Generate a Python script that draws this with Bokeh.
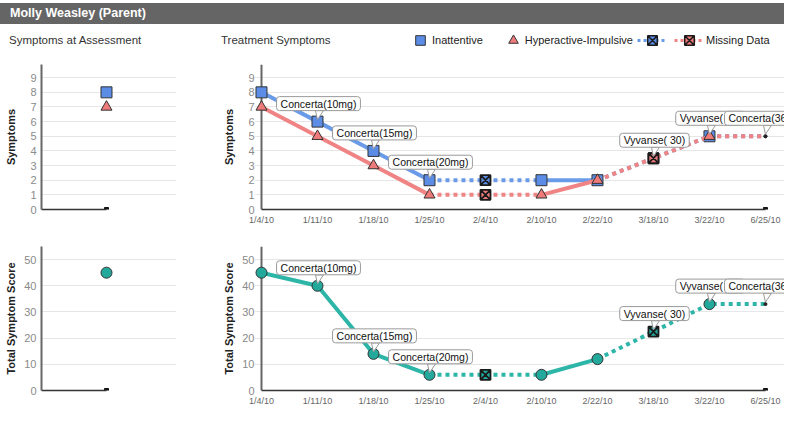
from bokeh.plotting import figure
from bokeh.models import (Range1d, FixedTicker, Span, Label, Legend, LegendItem, Div)
from bokeh.layouts import column, row
from bokeh.embed import file_html
from bokeh.resources import INLINE

# ---------------- data ----------------
respondent = "Molly Weasley (Parent)"
visit_dates = ["1/4/10", "1/11/10", "1/18/10", "1/25/10", "2/4/10",
               "2/10/10", "2/22/10", "3/18/10", "3/22/10", "6/25/10"]
visit_status = ["obs", "obs", "obs", "obs", "missing",
                "obs", "obs", "missing", "obs", "pending"]
inattentive = [8, 6, 4, 2, 2, 2, 2, 3.5, 5, 5]
hyperactive = [7, 5, 3, 1, 1, 1, 2, 3.5, 5, 5]
total_score = [45, 40, 14, 6, 6, 6, 12, 22.5, 33, 33]
medications = ["", "Concerta(10mg)", "Concerta(15mg)", "Concerta(20mg)", "",
               "", "", "Vyvanse( 30)", "Vyvanse( 50)", "Concerta(36mg)"]
assessment_category = ["Assessment"]
assessment_inattentive = [8]
assessment_hyperactive = [7]
assessment_total = [45]
symptom_ticks = [0, 1, 2, 3, 4, 5, 6, 7, 8, 9]
score_ticks = [0, 10, 20, 30, 40, 50]

# ---------------- style ----------------
FONT = "Liberation Sans"
BLUE_LINE, BLUE_FILL = "#6a9be9", "#5b8de6"
PINK_LINE, PINK_FILL = "#f08484", "#ee7a7a"
TEAL_LINE, TEAL_FILL = "#2db5a8", "#22a99b"
MK_LINE = "#333333"

LEFT_W, RIGHT_W = 220, 564
HEADER_H, HEADER_TOP, SUB_H = 21, 3, 32
SUB2_W = 185
XL = (-1, 1.077)
XR = (-0.125, 9.340)      # view extends to the canvas edge (labels cut there)
GRID_END = 9.036          # gridlines stop a little after the last visit
TOP_Y = (0, 9.9)
BOT_Y = (0, 55)
TOP_CFG = dict(height=171, min_border_top=8, min_border_bottom=18)
BOT_CFG = dict(height=181, min_border_top=19, min_border_bottom=16)
TOP_FH, BOT_FH = 145, 146
RIGHT_FW = 530


def base_fig(width, xr, yr, cfg, left, right):
    p = figure(width=width, x_range=Range1d(*xr), y_range=Range1d(*yr),
               output_backend="svg", toolbar_location=None,
               min_border_left=left, min_border_right=right, **cfg)
    p.outline_line_color = None
    p.xgrid.visible = False
    p.ygrid.grid_line_color = "#e6e6e6"
    for ax in (p.xaxis, p.yaxis):
        ax.major_tick_out = 0
        ax.major_tick_in = 0
        ax.minor_tick_out = 0
        ax.minor_tick_in = 0
        ax.major_tick_line_color = None
        ax.minor_tick_line_color = None
    p.yaxis.axis_line_color = "#666666"
    p.yaxis.axis_line_width = 2
    p.yaxis.major_label_text_font = FONT
    p.yaxis.major_label_text_font_size = "11px"
    p.yaxis.major_label_text_color = "#8a8a8a"
    p.yaxis.axis_label_text_font = FONT
    p.yaxis.axis_label_text_font_size = "11px"
    p.yaxis.axis_label_text_font_style = "bold"
    p.yaxis.axis_label_text_color = "#222222"
    p.xaxis.axis_line_color = "#333333"
    p.xaxis.axis_line_width = 1.5
    return p


def left_fig(cfg, yr, ticks, label, label_standoff):
    p = base_fig(LEFT_W, XL, yr, cfg, 41, 44)
    p.yaxis.ticker = FixedTicker(ticks=ticks)
    p.yaxis.axis_label = label
    p.yaxis.major_label_standoff = 5
    p.yaxis.axis_label_standoff = label_standoff
    p.xaxis.ticker = FixedTicker(ticks=[])
    p.xaxis.major_label_text_font_size = "0px"
    p.xaxis.bounds = (XL[0], 0)
    p.scatter(x=[0], y=[0], marker="square", size=4, fill_color="#111", line_color="#111")
    return p


def right_fig(cfg, yr, ticks, label, label_standoff):
    p = base_fig(RIGHT_W, XR, yr, cfg, 34, 0)
    idx = list(range(len(visit_dates)))
    p.ygrid.bounds = (XR[0], GRID_END)
    p.yaxis.ticker = FixedTicker(ticks=ticks)
    p.yaxis.axis_label = label
    p.yaxis.major_label_standoff = 0
    p.yaxis.axis_label_standoff = label_standoff
    p.yaxis.axis_line_color = None
    sp = Span(location=idx[0], dimension="height", line_color="#666666", line_width=2)
    sp.level = "underlay"
    p.add_layout(sp)
    p.xaxis.ticker = FixedTicker(ticks=idx)
    p.xaxis.major_label_overrides = {i: d for i, d in enumerate(visit_dates)}
    p.xaxis.major_label_text_font = FONT
    p.xaxis.major_label_text_font_size = "9px"
    p.xaxis.major_label_text_color = "#666666"
    p.xaxis.major_label_standoff = 5
    p.xaxis.bounds = (idx[0], idx[-1])
    p.scatter(x=[idx[-1]], y=[0], marker="square", size=4, fill_color="#111", line_color="#111")
    return p


def runs(vals):
    solid, dotted = [], []
    for i in range(len(vals) - 1):
        ok = visit_status[i] == "obs" and visit_status[i + 1] == "obs"
        bucket = solid if ok else dotted
        if bucket and bucket[-1][0][-1] == i:
            bucket[-1][0].append(i + 1)
            bucket[-1][1].append(vals[i + 1])
        else:
            bucket.append(([i, i + 1], [vals[i], vals[i + 1]]))
    return solid, dotted


def draw_lines(p, vals, color):
    solid, dotted = runs(vals)
    p.multi_line(xs=[r[0] for r in solid], ys=[r[1] for r in solid],
                 line_color=color, line_width=4, line_join="round")
    p.multi_line(xs=[r[0] for r in dotted], ys=[r[1] for r in dotted],
                 line_color=color, line_width=4, line_dash="4 4")


def draw_markers(p, vals, marker, fill):
    obs = [i for i, s in enumerate(visit_status) if s == "obs"]
    mis = [i for i, s in enumerate(visit_status) if s == "missing"]
    pen = [i for i, s in enumerate(visit_status) if s == "pending"]
    p.scatter(x=obs, y=[vals[i] for i in obs], marker=marker, size=11,
              fill_color=fill, line_color=MK_LINE)
    p.scatter(x=mis, y=[vals[i] for i in mis], marker="square_x", size=10,
              fill_color=fill, line_color="#1a1a1a", line_width=1.8)
    p.scatter(x=pen, y=[vals[i] for i in pen], marker="circle", size=3,
              fill_color="#222222", line_color="#222222")


def annotate(p, anchors, yr, fh):
    dx = (XR[1] - XR[0]) / RIGHT_FW
    dy = (yr[1] - yr[0]) / fh
    xs, ys = [], []
    for i, med in enumerate(medications):
        if not med:
            continue
        a = anchors[i]
        xs.append([i - 2 * dx, i + 6 * dx, i])
        ys.append([a + 11 * dy, a + 11 * dy, a + 2 * dy])
    p.patches(xs, ys, fill_color="white", line_color="#9a9a9a", line_width=1)
    for i, med in enumerate(medications):
        if not med:
            continue
        p.add_layout(Label(x=i, y=anchors[i], text=med, x_offset=1, y_offset=11,
                           text_align="center", text_baseline="bottom",
                           text_font=FONT, text_font_size="10.5px", text_color="#111111",
                           background_fill_color="white", border_line_color="#9a9a9a",
                           border_line_width=1, padding=(4, 1), border_radius=3))


# ---------------- header ----------------
header = Div(text=f'<div style="padding-left:10px">{respondent}</div>', width=784, height=HEADER_H,
             margin=(HEADER_TOP, 0, 0, 0),
             styles={"background-color": "#656565", "color": "#ffffff",
                     "font-family": FONT, "font-size": "12.5px", "font-weight": "bold",
                     "line-height": f"{HEADER_H}px"})
sub_style = {"color": "#333333", "font-family": FONT, "font-size": "11.5px",
             "line-height": f"{SUB_H}px"}
sub1 = Div(text='<div style="padding-left:9px">Symptoms at Assessment</div>',
           width=LEFT_W, height=SUB_H, margin=0, styles=sub_style)
sub2 = Div(text='<div style="padding-left:1px">Treatment Symptoms</div>',
           width=SUB2_W, height=SUB_H, margin=0, styles=sub_style)

# legend panel: proxy renderers whose (data) points fall outside the 0..1 view
legfig = figure(width=784 - LEFT_W - SUB2_W, height=SUB_H, x_range=Range1d(0, 1), y_range=Range1d(0, 1),
                x_axis_location=None, y_axis_location=None, toolbar_location=None,
                output_backend="svg", min_border=0)
legfig.outline_line_color = None
legfig.grid.visible = False
px = [0, 1]
r_sq = legfig.scatter(x=px[:1], y=assessment_inattentive, marker="square",
                      fill_color=BLUE_FILL, line_color=MK_LINE)
r_tri = legfig.scatter(x=px[:1], y=assessment_hyperactive, marker="triangle",
                       fill_color=PINK_FILL, line_color=MK_LINE)
r_bl = legfig.line(x=px, y=inattentive[3:5], line_color=BLUE_LINE, line_width=3, line_dash="3 3")
r_bx = legfig.scatter(x=px[:1], y=inattentive[4:5], marker="square_x",
                      fill_color=BLUE_FILL, line_color="#1a1a1a", line_width=1.5)
r_pl = legfig.line(x=px, y=inattentive[3:5], line_color=PINK_LINE, line_width=3, line_dash="3 3")
r_px = legfig.scatter(x=px[:1], y=inattentive[4:5], marker="square_x",
                      fill_color=PINK_FILL, line_color="#1a1a1a", line_width=1.5)
leg_common = dict(orientation="horizontal", padding=0, margin=0,
                  glyph_height=24, label_height=24, background_fill_alpha=0,
                  border_line_color=None, label_text_font=FONT,
                  label_text_font_size="11px", label_text_color="#222222")
legA = Legend(items=[LegendItem(label="Inattentive", renderers=[r_sq]),
                     LegendItem(label="Hyperactive-Impulsive", renderers=[r_tri])],
              location=(3, 4), glyph_width=24, spacing=18, label_standoff=-3, **leg_common)
legB = Legend(items=[LegendItem(label="", renderers=[r_bl, r_bx]),
                     LegendItem(label="Missing Data", renderers=[r_pl, r_px])],
              location=(232, 4), glyph_width=30, spacing=5, label_standoff=2,
              label_width=0, **leg_common)
legfig.add_layout(legA)
legfig.add_layout(legB)

# ---------------- panels ----------------
tl = left_fig(TOP_CFG, TOP_Y, symptom_ticks, "Symptoms", 10)
tl.scatter(x=[0], y=assessment_inattentive, marker="square", size=11, fill_color=BLUE_FILL, line_color=MK_LINE)
tl.scatter(x=[0], y=assessment_hyperactive, marker="triangle", size=11, fill_color=PINK_FILL, line_color=MK_LINE)

bl = left_fig(BOT_CFG, BOT_Y, score_ticks, "Total Symptom Score", 4)
bl.scatter(x=[0], y=assessment_total, marker="circle", size=11, fill_color=TEAL_FILL, line_color=MK_LINE)

tr = right_fig(TOP_CFG, TOP_Y, symptom_ticks, "Symptoms", 10)
draw_lines(tr, inattentive, BLUE_LINE)
draw_markers(tr, inattentive, "square", BLUE_FILL)
draw_lines(tr, hyperactive, PINK_LINE)
draw_markers(tr, hyperactive, "triangle", PINK_FILL)
annotate(tr, [max(a, b) for a, b in zip(inattentive, hyperactive)], TOP_Y, TOP_FH)

br = right_fig(BOT_CFG, BOT_Y, score_ticks, "Total Symptom Score", 4)
draw_lines(br, total_score, TEAL_LINE)
draw_markers(br, total_score, "circle", TEAL_FILL)
annotate(br, total_score, BOT_Y, BOT_FH)

layout = column(header, row(sub1, sub2, legfig), row(tl, tr), row(bl, br))

open("out.html", "w").write(file_html(layout, INLINE))
